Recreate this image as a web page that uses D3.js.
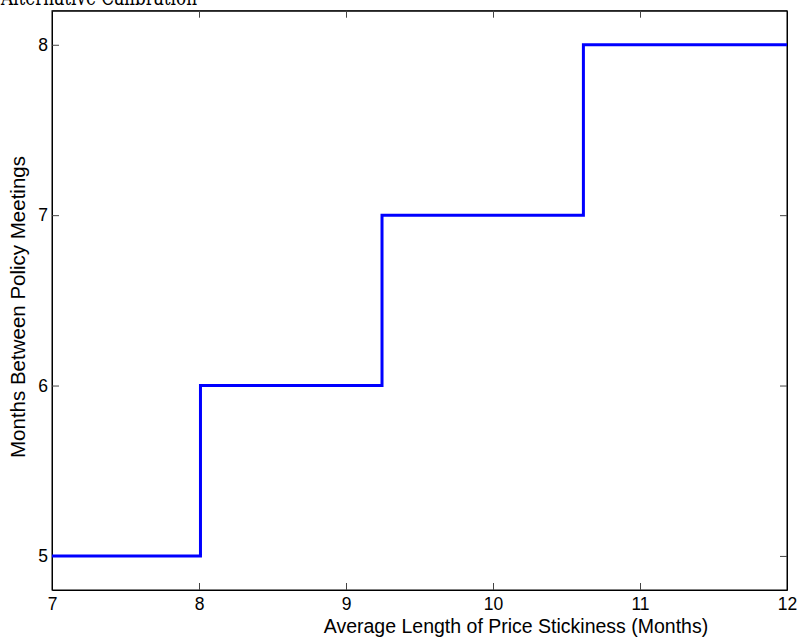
<!DOCTYPE html>
<html><head><meta charset="utf-8">
<script src="https://cdn.jsdelivr.net/npm/d3@7"></script>
<style>body{margin:0;background:#fff}svg{display:block}</style>
</head><body>
<svg id="chart" width="797" height="639"></svg>
<script>
const title = "Alternative Calibration";
const xLabel = "Average Length of Price Stickiness (Months)";
const yLabel = "Months Between Policy Meetings";
const stickiness = [7, 8.01, 9.245, 10.615, 12];
const meetings = [5, 6, 7, 8, 8];
const xTicks = [7, 8, 9, 10, 11, 12];
const yTicks = [5, 6, 7, 8];

const svg = d3.select("#chart");
const m = {l: 52, r: 10, t: 10.7, b: 49};
const W = 797, H = 639;
const x = d3.scaleLinear().domain([7, 12]).range([m.l, W - m.r]);
const y = d3.scaleLinear().domain([4.8, 8.2]).range([H - m.b, m.t]);

const font = "Liberation Sans, Arial, sans-serif";
const tickLen = 7;

svg.append("rect").attr("x", x(7)).attr("y", y(8.2)).attr("width", x(12) - x(7)).attr("height", y(4.8) - y(8.2))
  .attr("fill", "none").attr("stroke", "#000").attr("stroke-width", 1);

const gx = svg.append("g").attr("transform", `translate(0,${y(4.8)})`)
  .call(d3.axisBottom(x).tickValues(xTicks).tickFormat(d3.format("d")).tickSizeInner(-tickLen).tickSizeOuter(0).tickPadding(8));
const gxt = svg.append("g").attr("transform", `translate(0,${y(8.2)})`)
  .call(d3.axisTop(x).tickValues(xTicks).tickFormat("").tickSizeInner(-tickLen).tickSizeOuter(0));
const gy = svg.append("g").attr("transform", `translate(${x(7)},0)`)
  .call(d3.axisLeft(y).tickValues(yTicks).tickFormat(d3.format("d")).tickSizeInner(-tickLen).tickSizeOuter(0).tickPadding(4));
const gyr = svg.append("g").attr("transform", `translate(${x(12)},0)`)
  .call(d3.axisRight(y).tickValues(yTicks).tickFormat("").tickSizeInner(-tickLen).tickSizeOuter(0));
[gx, gxt, gy, gyr].forEach(g => {
  g.select(".domain").attr("stroke", "#000");
  g.selectAll(".tick line").attr("stroke", "#444");
  g.selectAll(".tick text").attr("font-family", font).attr("font-size", 17.5).attr("fill", "#000");
});
gy.selectAll(".tick line").attr("x2", tickLen);

const line = d3.line().x((d, i) => x(stickiness[i])).y((d, i) => y(meetings[i])).curve(d3.curveStepAfter);
svg.append("path").datum(meetings).attr("d", line).attr("fill", "none").attr("stroke", "#0000ff").attr("stroke-width", 3);

svg.append("text").attr("x", 516).attr("y", 633).attr("text-anchor", "middle")
  .attr("font-family", font).attr("font-size", 19.5).text(xLabel);
svg.append("text").attr("transform", `translate(25,307) rotate(-90)`).attr("text-anchor", "middle")
  .attr("font-family", font).attr("font-size", 20.5).text(yLabel);
svg.append("text").attr("x", 1).attr("y", 5).attr("font-family", "DejaVu Serif, Liberation Serif, serif")
  .attr("font-size", 22).attr("textLength", 196).attr("lengthAdjust", "spacingAndGlyphs").text(title);
</script>
</body></html>
